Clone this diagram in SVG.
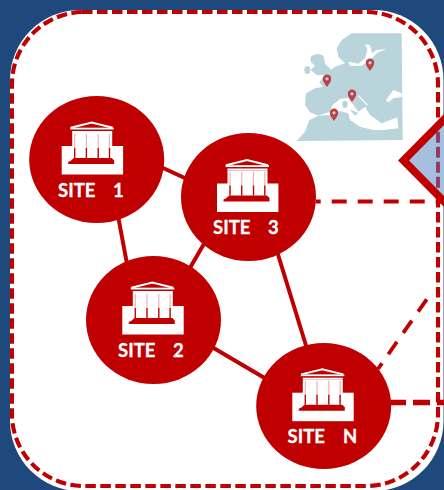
<svg xmlns="http://www.w3.org/2000/svg" width="444" height="490" viewBox="0 0 444 490">
<style>
.l{stroke:#c00000;fill:none;stroke-width:4}
.d{stroke:#c00000;fill:none;stroke-width:3.8;stroke-dasharray:15 11}
.n{fill:#c00000}
.t{font-family:Lato,"Liberation Sans",sans-serif;font-weight:700;font-size:18.5px;fill:#fff;stroke:#fff;stroke-width:.3}
.land{fill:#b9d4da}
.sea{fill:#fff}
</style>
<defs>
<filter id="soft" x="-5%" y="-5%" width="110%" height="110%"><feGaussianBlur stdDeviation="1.2"/></filter>
<g id="icon">
<rect x="0" y="0" width="61.4" height="28.5" fill="#fff"/>
<rect x="10.5" y="-13" width="40" height="22" fill="#fff"/>
<path d="M13 -12V12M24.7 -12V12M36.5 -12V12M47.8 -12V12" stroke="#eeb4b4" stroke-width="1.2" fill="none"/>
<path d="M13 2V12M24.7 2V12M36.5 2V12M47.8 2V12" stroke="#c00000" stroke-width="1.3" fill="none"/>
<path d="M9.5 14.5L12 12H50L52.5 14.5V18H6.5V16Z" fill="#c00000"/>
<path d="M9 -18.3L30 -23.5L51 -18.3" fill="#c00000" stroke="#fff" stroke-width="2"/>
<rect x="8.5" y="-18.3" width="43.5" height="2" fill="#fff"/>
<rect x="8.5" y="-16.3" width="43.5" height="1.4" fill="#c00000"/>
<rect x="10.5" y="-15" width="40" height="2" fill="#fff"/>
</g>
<g id="pin">
<path d="M0 7C-2.5 3.5 -4.2 1.5 -4.2 -1.2A4.2 4.2 0 0 1 4.2 -1.2C4.2 1.5 2.5 3.5 0 7Z" fill="#bb4048"/>
<circle cx="0" cy="-1.2" r="1.6" fill="#e8d0d0"/>
</g>
</defs>
<rect width="444" height="490" fill="#1f497d"/>
<rect x="10" y="10" width="433.5" height="481" rx="70" ry="70" fill="#fff"/>
<path d="M82 12H366A72 72 0 0 1 438 84V414A72 72 0 0 1 366 486H84A72 72 0 0 1 12 414V84A72 72 0 0 1 84 12Z" fill="none" stroke="#c00000" stroke-width="4.1" stroke-dasharray="10.5 4.5"/>
<g id="map" transform="translate(290 25) scale(.3333)" filter="url(#soft)">
<path class="land" d="M185 25L335 25L338 345L20 348L45 320L58 285L85 272L60 262L45 240L48 205L75 190L100 185L88 172L105 150L135 125L165 115L145 95L140 70L155 45Z"/>
<path class="land" d="M62 95Q80 80 100 92L106 118L125 135L105 150L80 150L62 135L75 122L62 110Z"/>
<ellipse class="land" cx="52" cy="135" rx="9" ry="12"/>
<path class="sea" d="M175 110L205 116L225 100L232 75L225 58L240 60L246 85L260 75L290 72L265 82L250 95L240 105L215 122L180 122Z"/>
<path class="sea" d="M82 272L118 262L128 240L150 222L175 218L190 240L205 260L225 245L240 270L275 295L322 277L325 310L280 315L250 315L210 305L180 285L175 265L150 258L120 270Z"/>
<path d="M205 212L232 240" stroke="#fff" stroke-width="4" fill="none"/>
<path class="sea" d="M288 226L310 195L335 205L335 216L310 220L296 232Z"/>
<ellipse class="land" cx="165" cy="238" rx="8" ry="11"/>
<path class="land" d="M178 252L205 264L195 272Z"/>
</g>
<g id="pins">
<use href="#pin" x="327" y="80"/>
<use href="#pin" x="370" y="64"/>
<use href="#pin" x="352" y="95"/>
<use href="#pin" x="334" y="114"/>
</g>
<g id="connectors">
<path class="l" d="M150 162L200 185M116 205L130 280M215 225L180 285M272 235L312 365M200 340L285 390"/>
<path class="d" stroke-dashoffset="10.3" d="M316 201.5H444"/>
<path class="d" d="M426.7 299.3L378 369"/>
<path d="M391 402.5H444" fill="none" stroke="#c00000" stroke-width="5.5" stroke-dasharray="17 7" stroke-dashoffset="2"/>
</g>
<g id="uplink">
<path d="M450 113.5L403.5 160.5L450 207.5Z" fill="#a6bfdf" stroke="#c00000" stroke-width="7.8"/>
<path d="M438 131.7V188" fill="none" stroke="#8b3a62" stroke-width="3.8" stroke-dasharray="11 4"/>
</g>
<g id="site1"><ellipse class="n" cx="96.7" cy="159.5" rx="67.5" ry="63.5"/><use href="#icon" x="61.7" y="146"/><text class="t" y="197"><tspan x="58">SITE</tspan><tspan x="113">1</tspan></text></g>
<g id="site3"><ellipse class="n" cx="248.5" cy="197" rx="67.5" ry="64"/><use href="#icon" x="217" y="183.5"/><text class="t" y="234"><tspan x="213">SITE</tspan><tspan x="268">3</tspan></text></g>
<g id="site2"><ellipse class="n" cx="153.5" cy="320" rx="67.5" ry="64"/><use href="#icon" x="122.3" y="306"/><text class="t" y="357"><tspan x="118">SITE</tspan><tspan x="173">2</tspan></text></g>
<g id="siteN"><ellipse class="n" cx="323.7" cy="406" rx="67.5" ry="63"/><use href="#icon" x="292.3" y="392.7"/><text class="t" y="443"><tspan x="287.5">SITE</tspan><tspan x="343">N</tspan></text></g>
</svg>
